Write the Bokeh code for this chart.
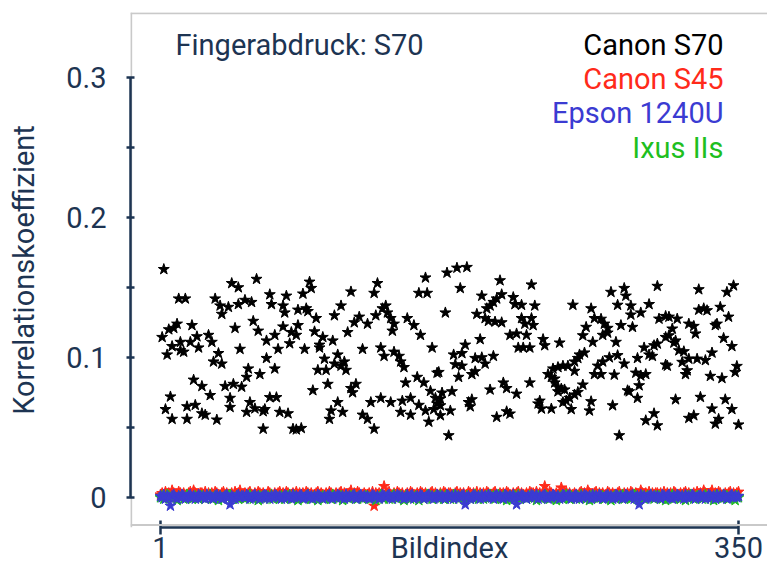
from bokeh.plotting import figure
from bokeh.models import Label, Span, FixedTicker, Range1d, CustomJSTickFormatter
from bokeh.embed import file_html
from bokeh.resources import INLINE

# ---------------- data ----------------
# Canon S70 (fingerprint S70): image index and correlation coefficient
s70_index = [
    2, 3, 4, 5, 6, 7, 8, 8, 9, 11, 12, 13, 13, 15, 16, 17, 17, 19, 20, 21, 22, 23, 24, 26, 26,
    28, 30, 31, 32, 33, 34, 35, 36, 37, 38, 38, 40, 42, 43, 43, 44, 45, 46, 48, 48, 49, 50, 52,
    59, 91, 92, 56, 67, 77, 87, 68, 75, 76, 84, 89, 90, 95, 106, 110, 57, 60, 75, 84, 80, 83,
    70, 65, 72, 79, 88, 94, 99, 105, 97, 97, 65, 70, 61, 54, 53, 100, 108, 106, 110, 96, 101,
    102, 93, 67, 71, 55, 53, 58, 63, 64, 73, 78, 108, 104, 103, 111, 63, 81, 86, 83,
    161, 157, 162, 132, 130, 116, 137, 135, 138, 140, 142, 141, 131, 126, 121, 118, 114, 150,
    154, 158, 165, 123, 134, 136, 142, 145, 146, 148, 112, 113, 168, 119, 116, 117, 149, 156,
    160, 164, 167, 128, 134, 140, 147, 152, 157, 161, 166, 123, 126, 130, 146, 152, 163,
    174, 180, 186, 182, 206, 225, 195, 173, 207, 204, 202, 200, 198, 214, 215, 219, 192, 197,
    199, 203, 207, 219, 221, 225, 226, 212, 216, 222, 194, 185, 217, 220, 224, 178, 183, 191,
    195, 202, 197, 179, 183, 169, 181, 189, 191, 208, 210, 216, 200, 224, 177, 171, 170, 187,
    189, 188, 170, 176, 170, 168, 204, 210, 212, 175,
    227, 250, 273, 281, 282, 277, 261, 263, 267, 269, 271, 279, 258, 256, 268, 271, 262, 276,
    232, 233, 242, 257, 254, 253, 251, 247, 244, 241, 238, 235, 237, 239, 239, 241, 251, 265,
    268, 272, 277, 263, 267, 275, 281, 256, 253, 251, 243, 245, 241, 248, 246, 244, 230, 229,
    231, 237, 249, 260, 261, 274, 284, 278,
    301, 326, 343, 347, 285, 296, 291, 285, 286, 329, 326, 331, 339, 344, 302, 306, 308, 313,
    320, 323, 324, 336, 337, 310, 308, 306, 312, 311, 301, 299, 293, 341, 346, 314, 317, 334,
    296, 298, 289, 320, 325, 330, 316, 307, 306, 319, 318, 349, 348, 288, 291, 294, 333, 340,
    290, 283, 289, 312, 327, 342, 334, 346, 299, 294, 301, 320, 323, 338, 336, 350,
]
s70_value = [
    .1145, .163, .063, .102, .120, .072, .108, .056, .121, .124, .142, .111, .105, .104, .142,
    .065, .056, .111, .123, .084, .066, .115, .107, .0795, .060, .059, .116, .073, .111, .097,
    .142, .0555, .103, .137, .131, .0955, .0795, .136, .071, .0645, .153, .081, .121, .150,
    .138, .106, .079, .141,
    .156, .154, .1495, .1395, .145, .144, .1455, .138, .137, .132, .134, .135, .133, .128, .130,
    .137, .126, .119, .122, .123, .118, .116, .116, .112, .106, .110, .106, .1185, .1145, .112,
    .109, .107, .0995, .092, .088, .092, .086, .099, .102, .0955, .094, .091, .091, .081, .0765,
    .0715, .0715, .068, .061, .0635, .0615, .063, .061, .060, .068, .062, .056, .061, .049, .049,
    .0495, .0485,
    .157, .146, .146, .153, .146, .147, .137, .135, .132, .128, .124, .119, .130, .124, .129,
    .125, .118, .128, .123, .116, .107, .106, .107, .101, .104, .101, .097, .093, .097, .091,
    .089, .081, .078, .075, .082, .086, .082, .076, .071, .068, .071, .068, .069, .071, .066,
    .062, .063, .059, .056, .049, .061, .059, .054,
    .1605, .164, .1645, .1495, .155, .152, .144, .132, .145, .142, .1395, .137, .135, .143,
    .138, .1375, .131, .128, .126, .1255, .125, .128, .124, .128, .123, .116, .117, .116, .113,
    .109, .107, .107, .107, .102, .103, .0995, .100, .101, .0955, .095, .094, .0895, .086, .088,
    .090, .082, .078, .074, .077, .082, .0757, .0748, .0705, .068, .070, .065, .0657, .062,
    .0586, .067, .0574, .0614, .0598, .0443,
    .137, .1375, .1467, .1495, .144, .1375, .135, .128, .1275, .124, .121, .123, .1217, .1157,
    .116, .1176, .111, .111, .113, .1086, .1105, .1034, .102, .0995, .097, .094, .094, .093,
    .092, .088, .086, .0848, .082, .0788, .0903, .094, .097, .100, .1015, .088, .088, .0876,
    .0955, .0805, .0752, .0734, .0776, .077, .0757, .071, .069, .068, .069, .067, .0634, .0634,
    .063, .062, .0686, .0657, .0757, .0443,
    .151, .1486, .1467, .1514, .137, .138, .132, .1305, .1217, .135, .134, .1336, .136, .129,
    .1276, .1295, .129, .1276, .124, .1224, .117, .123, .124, .1205, .1157, .1145, .112, .1105,
    .1098, .1086, .107, .1138, .108, .105, .1043, .1034, .102, .101, .0995, .099, .099, .098,
    .0967, .094, .0948, .0907, .088, .0938, .0895, .089, .087, .088, .0867, .0852, .080, .0764,
    .071, .070, .0717, .070, .0634, .063, .060, .055, .0514, .0567, .0586, .056, .0526, .052,
]

# Other cameras: correlation coefficient in thousandths, image index 1..350
s45_milli = [
    2, 3, 1, 4, 2, 3, 2, 5, 3, 1, 2, 4, 3, 2, 3, 1, 2, 3, 4, 2, 5, 3, 2, 1, 3,
    3, 2, 4, 1, 3, 2, 3, 2, 4, 3, 2, 1, 3, 4, 2, 3, 2, 2, 3, 1, 4, 2, 3, 5, 2,
    1, 3, 2, 3, 4, 2, 1, 3, 2, 4, 3, 2, 3, 1, 2, 4, 3, 2, 1, 3, 2, 3, 4, 2, 3,
    2, 4, 3, 1, 2, 3, 2, 4, 2, 3, 1, 3, 2, 4, 3, 2, 3, 1, 2, 3, 4, 2, 3, 2, 1,
    3, 2, 4, 3, 2, 1, 3, 2, 3, 4, 2, 3, 1, 2, 3, 5, 2, 3, 2, 4, 3, 1, 2, 3, 2,
    2, 3, 1, 4, -6, 3, 2, 3, 2, 3, 8, 2, 3, 4, 2, 1, 3, 2, 4, 3, 2, 3, 1, 2, 3,
    2, 4, 3, 2, 1, 3, 2, 4, 3, 2, 3, 1, 2, 3, 4, 2, 3, 2, 1, 3, 2, 4, 3, 2, 3,
    3, 2, 1, 3, 4, 2, 3, 2, 3, 1, 2, 4, 3, 2, 3, 2, 4, 1, 3, 2, 3, 2, 4, 3, 2,
    2, 3, 4, 2, 1, 3, 2, 3, 2, 4, 3, 2, 1, 3, 2, 3, 4, 2, 3, 2, 1, 3, 2, 4, 3,
    3, 2, 4, 2, 3, 1, 2, 8, 3, 2, 4, 3, 2, 1, 3, 2, 3, 7, 2, 3, 4, 2, 3, 1, 2,
    3, 2, 1, 3, 4, 2, 3, 2, 5, 3, 2, 1, 3, 4, 2, 3, 2, 3, 1, 2, 4, 3, 2, 3, 2,
    2, 3, 4, 2, 1, 3, 2, 3, 2, 4, 3, 2, 3, 1, 2, 5, 3, 2, 3, 2, 4, 1, 3, 2, 3,
    3, 2, 3, 1, 4, 2, 3, 2, 3, 2, 4, 3, 1, 2, 3, 2, 3, 4, 2, 3, 1, 2, 3, 2, 4,
    2, 3, 2, 5, 3, 1, 2, 3, 5, 2, 3, 2, 4, 3, 1, 2, 3, 2, 3, 4, 2, 3, 2, 3, 4,
]
epson_milli = [
    1, 0, 2, -1, 1, 0, -6, 1, 2, 0, -1, 1, 0, 2, 1, -1, 0, 1, 2, 0, 1, -1, 0, 2, 1,
    0, 1, -1, 2, 0, 1, 0, -1, 1, 2, 0, 1, -1, 0, 1, 2, 0, -5, 1, 0, -1, 1, 2, 0, 1,
    1, 0, 2, 1, -1, 0, 1, 2, 0, 1, -1, 0, 1, 2, 1, 0, -1, 1, 0, 2, 1, 0, 1, -1, 0,
    2, 1, 0, 1, -1, 2, 0, 1, 0, 1, 2, -1, 0, 1, 2, 0, 1, -1, 1, 0, 2, 1, 0, -1, 1,
    0, 1, 2, 0, -1, 1, 0, 2, 1, 0, 1, -1, 2, 0, 1, 0, 1, 2, -1, 0, 1, 2, 0, 1, 0,
    1, -1, 0, 2, 1, 0, 1, -1, 0, 2, 1, 0, 1, 2, 0, -1, 1, 0, 2, 1, 0, 1, -1, 0, 2,
    0, 1, 2, -1, 0, 1, 0, 2, 1, -1, 0, 1, 2, 0, 1, -1, 0, 2, 1, 0, 1, 0, -1, 2, 1,
    0, 1, -1, 2, 0, 1, 0, 1, 2, -5, 0, 1, -1, 0, 2, 1, 0, 1, -1, 2, 0, 1, 0, 2, 1,
    0, -1, 1, 2, 0, 1, 0, -1, 2, 1, 0, 1, 0, 2, -1, -5, 1, 0, 2, 1, 0, -1, 1, 0, 2,
    1, 0, 2, -1, 1, 0, 1, 2, 0, -1, 1, 0, 2, 1, 0, 1, -1, 0, 2, 1, 0, 1, 2, -1, 0,
    1, 2, 0, -1, 1, 0, 2, 1, 0, 1, -1, 2, 0, 1, 0, 2, 1, -1, 0, 1, 2, 0, 1, -1, 0,
    2, 1, 0, 1, -1, 0, 2, 1, 0, 1, 2, -1, 0, 1, -5, 2, 0, 1, -1, 0, 1, 2, 0, 1, 0,
    1, 0, -1, 2, 1, 0, 1, 2, 0, -1, 1, 0, 2, 1, 0, 1, -1, 2, 0, 1, 0, 2, 1, -1, 0,
    1, 2, 0, 1, -1, 0, 2, 1, 0, 1, -1, 2, 0, 1, 0, 2, 1, -1, 0, 1, 2, 0, 1, 0, 1,
]
ixus_milli = [
    0, 1, -1, 0, 2, 1, 0, -1, 1, 0, -2, 1, 0, 1, -1, 0, 2, 0, 1, -1, 0, 1, 0, -1, 1,
    1, 0, -1, 1, 0, 2, -1, 0, 1, 0, -2, 1, 0, -1, 1, 0, 1, 2, 0, -1, 0, 1, -1, 0, 1,
    0, -1, 1, 0, 2, 0, -1, 1, 0, -2, 1, 0, 1, -1, 0, 1, 0, 2, -1, 0, 1, 0, -1, 1, 0,
    -1, 0, 1, 2, 0, -1, 1, 0, -2, 0, 1, 0, -1, 1, 2, 0, -1, 0, 1, 0, -2, 1, 0, 1, -1,
    0, 1, 0, -1, 2, 1, 0, -1, 0, 1, -2, 0, 1, 0, -1, 1, 0, 2, 0, -1, 1, 0, -1, 0, 1,
    1, 0, -1, 1, 0, -2, 1, 0, 2, 0, -1, 0, 1, -1, 0, 1, 2, 0, -1, 0, 1, 0, -2, 1, 0,
    0, -1, 1, 0, 1, 0, -2, 0, 1, -1, 0, 2, 0, 1, -1, 0, 1, 0, -1, 2, 0, -1, 1, 0, 1,
    -1, 0, 2, 0, 1, -1, 0, 1, 0, -2, 1, 0, -1, 0, 1, 2, 0, -1, 1, 0, -1, 0, 1, 0, 2,
    0, 1, -1, 0, 2, 0, -1, 1, 0, -2, 0, 1, 0, -1, 1, 0, 2, -1, 0, 1, 0, -1, 0, 1, 0,
    1, 0, -2, 1, 0, -1, 0, 2, 1, 0, -1, 0, 1, 0, -2, 1, 0, 1, -1, 0, 2, 0, -1, 1, 0,
    0, -1, 1, 0, 2, 0, 1, -1, 0, -2, 1, 0, 1, 0, -1, 2, 0, 1, -1, 0, 1, 0, -2, 0, 1,
    -1, 0, 1, 0, 2, -1, 0, 1, 0, -1, 0, 2, 1, 0, -2, 0, 1, -1, 0, 1, 0, 2, 0, -1, 1,
    0, 1, 0, -1, 1, -2, 0, 1, 0, 2, -1, 0, 1, 0, -1, 1, 0, -2, 1, 0, 2, 0, -1, 0, 1,
    1, 0, -1, 0, 2, 0, 1, -1, 0, -2, 1, 0, 1, 0, -1, 2, 0, 1, -1, 0, 1, 0, -2, 1, 0,
]

series_names = ["Canon S70", "Canon S45", "Epson 1240U", "Ixus IIs"]
series_colors = ["#000000", "#ff2a1a", "#3b3bd2", "#1fbf1f"]
x_ticks = [1, 350]
x_label = "Bildindex"
x_label_pos = 175.5
y_ticks = [0, 0.1, 0.2, 0.3]
y_minor_ticks = [0.05, 0.15, 0.25]
y_label = "Korrelationskoeffizient"
title_text = "Fingerabdruck: S70"

s45_value = [v / 1000 for v in s45_milli]
epson_value = [v / 1000 for v in epson_milli]
ixus_value = [v / 1000 for v in ixus_milli]
s45_index = list(range(1, len(s45_value) + 1))
epson_index = list(range(1, len(epson_value) + 1))
ixus_index = list(range(1, len(ixus_value) + 1))

# ---------------- figure ----------------
NAVY = "#1d3452"
GRAY = "#c9c9c9"
FONT = "Roboto"
FS = "29px"

X0, X1 = -17.114, 367.51
Y0, Y1 = -0.021429, 0.346429

p = figure(width=767, height=569, x_range=Range1d(X0, X1), y_range=Range1d(Y0, Y1),
           output_backend="svg", toolbar_location=None,
           min_border_left=130, min_border_right=0, min_border_top=12, min_border_bottom=42)
p.outline_line_color = None
p.grid.visible = False
p.background_fill_color = "white"
p.border_fill_color = "white"

# light gray frame (top, bottom, left)
p.add_layout(Span(location=Y1 - 0.0006, dimension="width", line_color=GRAY, line_width=2))
p.add_layout(Span(location=-0.019643, dimension="width", line_color=GRAY, line_width=2))
p.segment(x0=[X0 + 0.4], y0=[Y0], x1=[X0 + 0.4], y1=[Y1], line_color=GRAY, line_width=2)

# scatter series
MS = 11.5
p.scatter(s70_index, s70_value, marker="star", size=MS,
          fill_color=series_colors[0], line_color=series_colors[0])
p.scatter(s45_index, s45_value, marker="star", size=MS,
          fill_color=series_colors[1], line_color=series_colors[1])
p.scatter(ixus_index, ixus_value, marker="star", size=MS,
          fill_color=series_colors[3], line_color=series_colors[3])
p.scatter(epson_index, epson_value, marker="star", size=MS,
          fill_color=series_colors[2], line_color=series_colors[2])

# y axis
ya = p.yaxis[0]
ya.ticker = FixedTicker(ticks=y_ticks, minor_ticks=y_minor_ticks)
ya.bounds = (y_ticks[0], y_ticks[-1])
ya.formatter = CustomJSTickFormatter(code="return tick == 0 ? '0' : tick.toFixed(1);")
ya.axis_line_color = NAVY
ya.axis_line_width = 2.5
ya.major_tick_line_color = NAVY
ya.major_tick_line_width = 2.5
ya.minor_tick_line_color = NAVY
ya.minor_tick_line_width = 2.5
ya.major_tick_in = 4
ya.major_tick_out = 4
ya.minor_tick_in = 4
ya.minor_tick_out = 4
ya.major_label_standoff = 20
ya.major_label_text_font = FONT
ya.major_label_text_font_size = FS
ya.major_label_text_color = NAVY
ya.axis_label = y_label
ya.axis_label_text_font = FONT
ya.axis_label_text_font_size = FS
ya.axis_label_text_font_style = "normal"
ya.axis_label_text_color = NAVY
ya.axis_label_standoff = 22

# x axis: labels 1 / Bildindex / 350 on one line, end tick marks as minor ticks
xa = p.xaxis[0]
xa.ticker = FixedTicker(ticks=[x_ticks[0], x_label_pos, x_ticks[1]], minor_ticks=x_ticks)
xa.bounds = (x_ticks[0], x_ticks[-1])
xa.major_label_overrides = {x_ticks[0]: str(x_ticks[0]), x_label_pos: x_label,
                            x_ticks[1]: str(x_ticks[1])}
xa.axis_line_color = NAVY
xa.axis_line_width = 2.5
xa.major_tick_line_color = None
xa.major_tick_in = 0
xa.major_tick_out = 0
xa.minor_tick_line_color = NAVY
xa.minor_tick_line_width = 2.5
xa.minor_tick_in = 7
xa.minor_tick_out = 7
xa.major_label_standoff = -4
xa.major_label_text_font = FONT
xa.major_label_text_font_size = FS
xa.major_label_text_color = NAVY

# title-like note
p.add_layout(Label(x=10.06, y=0.32357, text=title_text, text_align="left",
                   text_baseline="alphabetic", text_font=FONT,
                   text_font_size=FS, text_color=NAVY))

# legend texts
legend_y = [0.32357, 0.29893, 0.27429, 0.24964]
for name, col, yv in zip(series_names, series_colors, legend_y):
    p.add_layout(Label(x=340.93, y=yv, text=name, text_align="right",
                       text_baseline="alphabetic", text_font=FONT,
                       text_font_size=FS, text_color=col))

open("out.html", "w").write(file_html(p, INLINE))
